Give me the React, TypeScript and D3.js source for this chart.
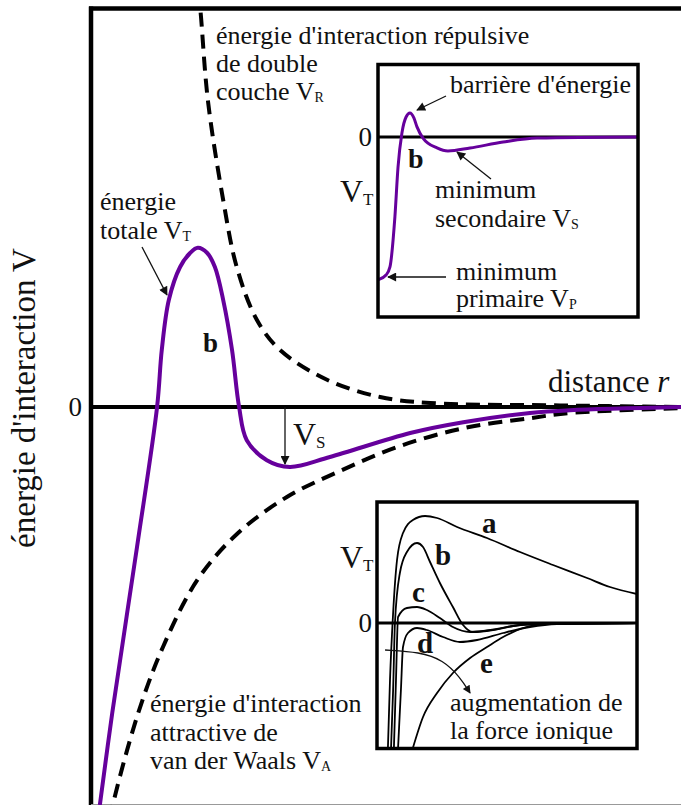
import React from 'react';
import * as d3 from 'd3';

const W = 681;
const H = 805;
const FONT = "'Liberation Serif', 'Times New Roman', serif";
const PURPLE = '#66009c';

// main chart: distance r (0..100) vs interaction energy (-100..100)
const vtDist = [1.5, 3.6, 7.8, 11.2, 12.0, 13.2, 15.1, 16.8, 18.1, 19.7, 21.0, 22.4, 23.9, 25.1, 26.4, 29.8, 33.7, 40.5, 54.1, 63.1, 74.4, 81.2, 100];
const vtEnergy = [-99.5, -76.5, -35, 0, 14.3, 26.8, 35, 38.5, 39.8, 38.5, 35, 26.8, 14.3, 0, -8.3, -13.3, -15, -12.5, -6.5, -3.8, -1.5, -0.8, 0];

const vrDist = [18.1, 18.5, 19.8, 22.4, 24.7, 28.1, 32.0, 40.0, 49.0, 57.5, 79.5, 100];
const vrEnergy = [104, 99.8, 76.8, 51.8, 35, 21.8, 14.3, 6.8, 2.5, 1, 0.4, 0];

const vaDist = [3.3, 3.7, 8.0, 12.2, 18.0, 24.7, 33.2, 42.2, 51.9, 63.1, 74.4, 81.2, 100];
const vaEnergy = [-103, -99.5, -76.5, -60, -43.3, -31.8, -22.5, -16, -10, -5.3, -2.8, -1.5, -0.3];

// top inset: total energy curve b
const topDist = [0, 3.1, 4.6, 6.5, 7.7, 9.2, 10.8, 12.3, 13.8, 15.0, 17.3, 22.7, 26.9, 35.4, 48.1, 61.2, 100];
const topEnergy = [-79.4, -76.7, -72.2, -44.4, -16.7, 2.2, 11.1, 13.3, 10.6, 5.6, -0.6, -6.1, -7.8, -6.1, -2.8, -0.6, 0];

// bottom inset: curves a..e for increasing ionic strength
const aDist = [4.2, 5.0, 6.2, 7.7, 10.0, 13.8, 18.5, 23.1, 30.8, 42.3, 55, 67.7, 80.8, 89.6, 100];
const aEnergy = [-100, -45.6, 8, 50.4, 72, 82.4, 85.6, 84, 76.8, 68, 56.8, 46.4, 36, 28.8, 23.2];
const bDist = [5.4, 6.2, 6.9, 8.8, 11.5, 15.4, 17.7, 20.4, 24.2, 29.2, 33.1, 36.9, 44.6, 52.3, 61.5, 100];
const bEnergy = [-100, -53.6, 0, 40, 56.8, 64, 60.8, 48.8, 32, 12.8, -1.6, -7.2, -5.6, -2.4, -0.8, 0];
const cDist = [6.5, 7.3, 8.1, 11.5, 15.4, 19.2, 24.2, 29.2, 35.8, 46.2, 55, 70.4, 100];
const cEnergy = [-100, -45.6, 4.8, 12, 12.8, 10.4, 4, -3.2, -7.2, -4.8, -1.6, -0.4, 0];
const dDist = [8.1, 9.2, 10, 11.9, 15.4, 19.2, 25.4, 31.9, 38.5, 48.5, 58.8, 69.2, 100];
const dEnergy = [-100, -53.6, -19.2, -8, -4, -5.6, -11.2, -15.2, -13.6, -8, -3.2, -0.8, 0];
const eDist = [13.8, 17.7, 23.1, 29.2, 35.8, 42.3, 48.5, 56.2, 65.4, 100];
const eEnergy = [-100, -75.2, -56, -40, -28, -19.2, -11.2, -4, -0.8, 0];

const curveNames = ['a', 'b', 'c', 'd', 'e'];
const curveDists = [aDist, bDist, cDist, dDist, eDist];
const curveEnergies = [aEnergy, bEnergy, cEnergy, dEnergy, eEnergy];

// arrow "augmentation de la force ionique" in bottom inset units
const ionicArrowDist = [3.1, 16.5, 25.4, 31.9, 35.8];
const ionicArrowEnergy = [-21.6, -23.2, -29.6, -43.2, -56];

const zip = (xs: number[], ys: number[]) => xs.map((x, i) => [x, ys[i]] as [number, number]);

const Sub = ({ x, y, base, sub, size = 26, subSize = 14, dy = 2 }: any) => (
  <text x={x} y={y} fontSize={size} fontFamily={FONT} fill="#111">
    {base}
    <tspan fontSize={subSize} dy={dy}>{sub}</tspan>
  </text>
);

const T = ({ x, y, children, size = 26, bold = false, anchor = 'start' }: any) => (
  <text x={x} y={y} fontSize={size} fontFamily={FONT} fontWeight={bold ? 'bold' : 'normal'} textAnchor={anchor} fill="#111">
    {children}
  </text>
);

export default function App() {
  // main scales
  const x = d3.scaleLinear().domain([0, 100]).range([91, 681]);
  const y = d3.scaleLinear().domain([-100, 100]).range([807, 7]);
  const line = d3.line<[number, number]>().x(d => x(d[0])).y(d => y(d[1])).curve(d3.curveCatmullRom.alpha(0.5));

  // top inset scales
  const x1 = d3.scaleLinear().domain([0, 100]).range([378, 638]);
  const y1 = d3.scaleLinear().domain([-100, 40]).range([317, 65]);
  const line1 = d3.line<[number, number]>().x(d => x1(d[0])).y(d => y1(d[1])).curve(d3.curveMonotoneX);

  // bottom inset scales
  const x2 = d3.scaleLinear().domain([0, 100]).range([377, 637]);
  const y2 = d3.scaleLinear().domain([-100, 96.8]).range([748, 502]);
  const line2 = d3.line<[number, number]>().x(d => x2(d[0])).y(d => y2(d[1])).curve(d3.curveMonotoneX);
  const arrowLine = d3.line<[number, number]>().x(d => x2(d[0])).y(d => y2(d[1])).curve(d3.curveBasis);

  return (
    <svg width={W} height={H} viewBox={`0 0 ${W} ${H}`} style={{ position: 'absolute', left: 0, top: 0, background: '#fff' }}>
      <defs>
        <clipPath id="main-clip"><rect x={91} y={8} width={590} height={797} /></clipPath>
        <clipPath id="top-clip"><rect x={378} y={64} width={260} height={253} /></clipPath>
        <clipPath id="bot-clip"><rect x={377} y={502} width={260} height={247} /></clipPath>
        <marker id="head" viewBox="0 0 10 10" refX={9} refY={5} markerWidth={12} markerHeight={9} markerUnits="userSpaceOnUse" orient="auto">
          <path d="M0,0 L10,5 L0,10 z" fill="#111" />
        </marker>
        <marker id="head-s" viewBox="0 0 10 10" refX={9} refY={5} markerWidth={10} markerHeight={8} markerUnits="userSpaceOnUse" orient="auto">
          <path d="M0,0 L10,5 L0,10 z" fill="#111" />
        </marker>
      </defs>

      <rect x={0} y={0} width={W} height={H} fill="#fff" />

      {/* frame */}
      <line x1={89} x2={W} y1={8.5} y2={8.5} stroke="#000" strokeWidth={4.5} />
      <line x1={91} x2={91} y1={6.5} y2={H} stroke="#000" strokeWidth={4.5} />
      <line x1={91} x2={W} y1={804.5} y2={804.5} stroke="#999" strokeWidth={1} />
      <line x1={91} x2={W} y1={y(0)} y2={y(0)} stroke="#000" strokeWidth={4} />

      <g clipPath="url(#main-clip)">
        <path d={line(zip(vrDist, vrEnergy)) || ''} fill="none" stroke="#000" strokeWidth={4} strokeDasharray="14,8" />
        <path d={line(zip(vaDist, vaEnergy)) || ''} fill="none" stroke="#000" strokeWidth={4} strokeDasharray="14,8" />
        <path d={line(zip(vtDist, vtEnergy)) || ''} fill="none" stroke={PURPLE} strokeWidth={4} />
      </g>

      {/* axis labels */}
      <text transform="translate(35,398) rotate(-90)" textAnchor="middle" fontSize={33} fontFamily={FONT} fill="#111">énergie d'interaction V</text>
      <T x={82} y={y(0) + 9} size={27} anchor="end">0</T>
      <text x={548} y={392} fontSize={31} fontFamily={FONT} fill="#111">distance <tspan fontStyle="italic">r</tspan></text>

      {/* main annotations */}
      <T x={216} y={44}>énergie d'interaction répulsive</T>
      <T x={216} y={72}>de double</T>
      <Sub x={216} y={100} base="couche V" sub="R" />
      <T x={100} y={210}>énergie</T>
      <Sub x={100} y={239} base="totale V" sub="T" />
      <line x1={142} y1={247} x2={167} y2={295} stroke="#111" strokeWidth={1.3} markerEnd="url(#head)" />
      <T x={203} y={352} size={27} bold>b</T>
      <line x1={285} y1={y(0)} x2={285} y2={464} stroke="#111" strokeWidth={1.3} markerEnd="url(#head)" />
      <Sub x={293} y={445} base="V" sub="S" size={32} subSize={17} dy={3} />
      <T x={150} y={712}>énergie d'interaction</T>
      <T x={150} y={741}>attractive de</T>
      <Sub x={150} y={769} base="van der Waals V" sub="A" />

      {/* top inset */}
      <rect x={378} y={64.5} width={260} height={252.5} fill="#fff" />
      <line x1={378} x2={638} y1={y1(0)} y2={y1(0)} stroke="#000" strokeWidth={3} />
      <g clipPath="url(#top-clip)">
        <path d={line1(zip(topDist, topEnergy)) || ''} fill="none" stroke={PURPLE} strokeWidth={3} />
      </g>
      <rect x={378} y={64.5} width={260} height={252.5} fill="none" stroke="#000" strokeWidth={3.5} />
      <T x={372} y={y1(0) + 9} size={27} anchor="end">0</T>
      <Sub x={340} y={202} base="V" sub="T" size={32} subSize={17} dy={3} />
      <T x={450} y={93}>barrière d'énergie</T>
      <line x1={446} y1={96} x2={417} y2={110} stroke="#111" strokeWidth={1.3} markerEnd="url(#head)" />
      <T x={408} y={168} size={28} bold>b</T>
      <line x1={491} y1={179} x2={457} y2={152} stroke="#111" strokeWidth={1.3} markerEnd="url(#head)" />
      <T x={435} y={198}>minimum</T>
      <Sub x={435} y={227} base="secondaire V" sub="S" />
      <line x1={446} y1={277} x2={388} y2={277} stroke="#111" strokeWidth={1.3} markerEnd="url(#head)" />
      <T x={456} y={280}>minimum</T>
      <Sub x={456} y={307} base="primaire V" sub="P" />

      {/* bottom inset */}
      <rect x={377} y={502} width={260} height={246.5} fill="#fff" />
      <line x1={377} x2={637} y1={y2(0)} y2={y2(0)} stroke="#000" strokeWidth={3} />
      <g clipPath="url(#bot-clip)">
        {curveNames.map((n, i) => (
          <path key={n} d={line2(zip(curveDists[i], curveEnergies[i])) || ''} fill="none" stroke="#000" strokeWidth={1.8} />
        ))}
      </g>
      <path d={arrowLine(zip(ionicArrowDist, ionicArrowEnergy)) || ''} fill="none" stroke="#111" strokeWidth={1.3} markerEnd="url(#head-s)" />
      <rect x={377} y={502} width={260} height={246.5} fill="none" stroke="#000" strokeWidth={3.5} />
      <T x={372} y={y2(0) + 9} size={27} anchor="end">0</T>
      <Sub x={340} y={568} base="V" sub="T" size={32} subSize={17} dy={3} />
      <T x={482} y={533} size={29} bold>a</T>
      <T x={435} y={565} size={29} bold>b</T>
      <T x={412} y={602} size={29} bold>c</T>
      <T x={417} y={653} size={29} bold>d</T>
      <T x={480} y={673} size={29} bold>e</T>
      <T x={450} y={711}>augmentation de</T>
      <T x={450} y={739}>la force ionique</T>
    </svg>
  );
}
